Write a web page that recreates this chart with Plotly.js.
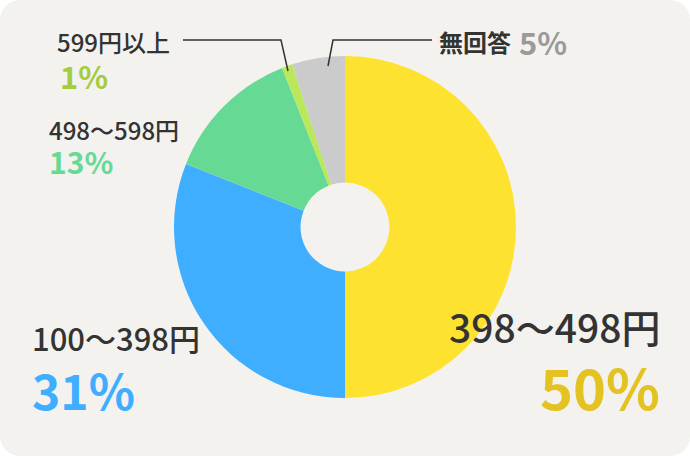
<!DOCTYPE html>
<html>
<head>
<meta charset="utf-8">
<script src="https://cdn.plot.ly/plotly-3.0.1.min.js"></script>
<style>
  html, body { margin: 0; padding: 0; background: #ffffff; }
  #card { width: 690px; height: 456px; background: #f3f2ef; border-radius: 20px; overflow: hidden; }
  #chart { width: 690px; height: 456px; }
</style>
</head>
<body>
<div id="card"><div id="chart"></div></div>
<script>
// price ranges, share in %
const categories = ["398〜498円", "100〜398円", "498〜598円", "599円以上", "無回答"]
const shares = [50, 31, 13, 1, 5]
const sliceColors = ["#fde22f", "#3faeff", "#66da94", "#b9e85a", "#cbcbcb"]
const pctColors = ["#e3c221", "#3faeff", "#66da94", "#a4cc3c", "#9a9a9a"]

const W = 690, H = 456
function px(x) { return x / W }
function py(y) { return 1 - y / H }

let font = "Noto Sans CJK JP, Noto Sans, sans-serif"

// label placement [x, y of name, x, y of pct, name size, pct size, anchor]
let spots = [
  [662, 326, 662, 385, 39, 56, "right"],
  [30, 337, 30, 389, 31, 48, "left"],
  [47, 129, 47, 161, 24, 30, "left"],
  [55, 41, 58, 75, 24, 31, "left"]
]

let annotations = []
for (let i = 0; i < spots.length; i++) {
  let s = spots[i]
  annotations.push({
    xref: "paper", yref: "paper", x: px(s[0]), y: py(s[1]),
    xanchor: s[6], yanchor: "middle", showarrow: false,
    text: categories[i], font: {family: font, size: s[4], color: "#333333", weight: 500}
  })
  annotations.push({
    xref: "paper", yref: "paper", x: px(s[2]), y: py(s[3]),
    xanchor: s[6], yanchor: "middle", showarrow: false,
    text: shares[i] + "%", font: {family: font, size: s[5], color: pctColors[i], weight: 700}
  })
}
// no answer label sits on one line
annotations.push({
  xref: "paper", yref: "paper", x: px(437), y: py(41), xanchor: "left", yanchor: "middle",
  showarrow: false, text: categories[4], font: {family: font, size: 24, color: "#333333", weight: 700}
})
annotations.push({
  xref: "paper", yref: "paper", x: px(517), y: py(41), xanchor: "left", yanchor: "middle",
  showarrow: false, text: shares[4] + "%", font: {family: font, size: 31, color: pctColors[4], weight: 700}
})

// leader lines
let shapes = [
  {type: "path", xref: "paper", yref: "paper",
   path: "M" + px(183) + "," + py(40) + " L" + px(281) + "," + py(40) + " L" + px(288) + "," + py(71),
   line: {color: "#333333", width: 1.5}},
  {type: "path", xref: "paper", yref: "paper",
   path: "M" + px(328) + "," + py(66) + " L" + px(333) + "," + py(40) + " L" + px(432) + "," + py(40),
   line: {color: "#333333", width: 1.5}}
]

let data = [{
  type: "pie",
  values: shares,
  labels: categories,
  sort: false,
  direction: "clockwise",
  rotation: 0,
  hole: 0.26,
  textinfo: "none",
  hoverinfo: "none",
  marker: {colors: sliceColors, line: {width: 0}},
  domain: {x: [px(174), px(516)], y: [py(398), py(56)]},
  showlegend: false
}]

let layout = {
  width: W, height: H,
  margin: {l: 0, r: 0, t: 0, b: 0},
  paper_bgcolor: "rgba(0,0,0,0)",
  plot_bgcolor: "rgba(0,0,0,0)",
  annotations: annotations,
  shapes: shapes
}

Plotly.newPlot("chart", data, layout, {staticPlot: true})
</script>
</body>
</html>
